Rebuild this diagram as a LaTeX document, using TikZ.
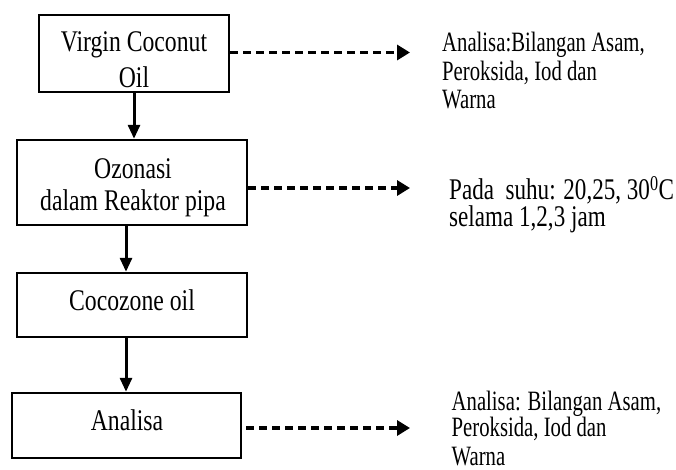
\documentclass[tikz,border=0pt]{standalone}
\usepackage{fontspec}
\setmainfont{Liberation Serif}[FakeStretch=0.79]
\newfontfamily\narrowfont{Liberation Serif}[FakeStretch=0.74]
\newfontfamily\midfont{Liberation Serif}[FakeStretch=0.77]
\usetikzlibrary{arrows.meta}
\begin{document}
\begin{tikzpicture}[x=1pt,y=-1pt,
  box/.style={draw=black,line width=2.5pt,inner sep=0pt},
  txt/.style={font=\fontsize{30}{33}\selectfont,anchor=base,inner sep=0pt},
  side/.style={font=\narrowfont\fontsize{28}{28}\selectfont,anchor=base west,inner sep=0pt},
  tside/.style={font=\midfont\fontsize{30}{26}\selectfont,anchor=base west,inner sep=0pt},
  arr/.style={line width=3pt,-{Triangle[length=14pt,width=12pt]}},
  darr/.style={line width=3.3pt,dash pattern=on 8pt off 5pt,-{Triangle[length=13pt,width=15pt]}}]
\useasboundingbox[fill=white] (0,0) rectangle (676,469);
% boxes
\node[box,minimum width=190pt,minimum height=77pt] (vco) at (134,53.5) {};
\node[box,minimum width=230pt,minimum height=85pt] (oz) at (132,182.5) {};
\node[box,minimum width=230pt,minimum height=64pt] (coco) at (132,305) {};
\node[box,minimum width=229pt,minimum height=65pt] (an) at (126.5,425.5) {};
% box texts
\node[txt] (vcot1) at (134,51.7) {Virgin Coconut};
\begin{scope}
\clip (39,15) rectangle (229,88);
\node[txt] (vcot2) at (134,87) {Oil};
\end{scope}
\node[txt] (ozt1) at (133,178.3) {Ozonasi};
\node[txt] (ozt2) at (133,210) {dalam Reaktor pipa};
\node[txt] (cocot) at (132,310) {Cocozone oil};
\node[txt] (ant) at (127,430) {Analisa};
% side texts
\node[side] (s1a) at (442,51.7) {Analisa:Bilangan Asam,};
\node[side] (s1b) at (442,80) {Peroksida, Iod dan};
\node[side] (s1c) at (442,108.3) {Warna};
\node[tside,text depth=0pt] (s2a) at (449,199.5) {Pada\ \ suhu: 20,25, 30\textsuperscript{0}C};
\node[tside] (s2b) at (449,226) {selama 1,2,3 jam};
\node[side] (s3a) at (451.5,410) {Analisa: Bilangan Asam,};
\node[side] (s3b) at (451.5,436.7) {Peroksida, Iod dan};
\node[side,text depth=0pt] (s3c) at (451.5,465) {Warna};
% tips
\coordinate (t1) at (410,52.5);
\coordinate (t2) at (410,188);
\coordinate (t3) at (410,428);
% solid arrows
\draw[arr] (vco.south) -- (vco.south |- oz.north);
\draw[arr] ([xshift=-6pt]oz.south) -- ([xshift=-6pt]oz.south |- coco.north);
\draw[arr] ([xshift=-6pt]coco.south) -- ([xshift=-6pt]coco.south |- an.north);
% dashed arrows
\draw[darr] (vco.east |- t1) -- (t1);
\draw[darr] (oz.east |- t2) -- (t2);
\draw[darr] ([xshift=4pt]an.east |- t3) -- (t3);
\end{tikzpicture}
\end{document}
